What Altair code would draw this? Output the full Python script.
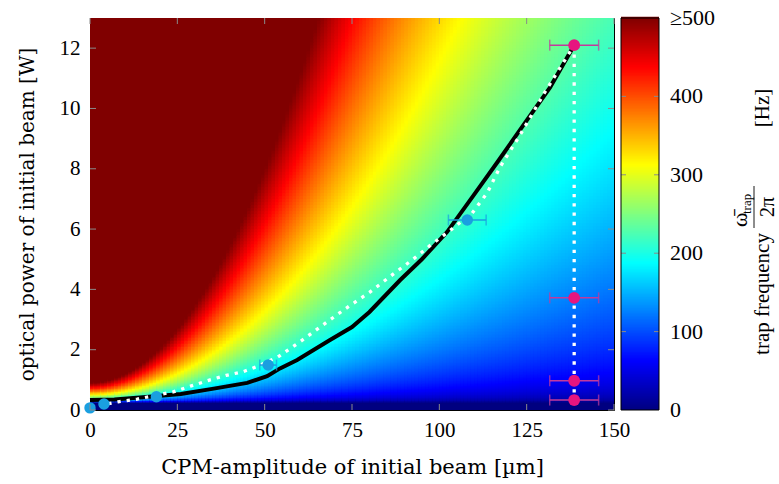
import numpy as np
import pandas as pd
import altair as alt

# ---------------- data ----------------
x_ticks = [0, 25, 50, 75, 100, 125, 150]
y_ticks = [0, 2, 4, 6, 8, 10, 12]
cbar_values = [0, 100, 200, 300, 400, 500]
cbar_inner_ticks = [100, 200, 300, 400]
jet_stops = [0, 62.5, 187.5, 312.5, 437.5, 500]
jet_colors = ["#000080", "#0000ff", "#00ffff", "#ffff00", "#ff0000", "#800000"]

# black solid curve
black_A = [0, 7, 16, 26, 35, 45, 50.7, 54.4, 59.3, 68.7, 75, 80, 88.8, 95, 102.2,
           110, 116.5, 123.1, 131.7, 138.6]
black_P = [0.33, 0.35, 0.43, 0.53, 0.7, 0.9, 1.12, 1.38, 1.66, 2.32, 2.75, 3.25, 4.31,
           5.0, 5.9, 7.15, 8.2, 9.29, 10.7, 12.1]

# white dotted curve
white_A = [0, 4, 8, 13.5, 18, 23.8, 29, 34.4, 39, 43.8, 48, 53.8, 60.1, 66.7, 73, 80,
           86.5, 92.5, 97.3, 103.6, 109.4, 113.7, 117.4, 123, 130, 138.6]
white_P = [0.1, 0.18, 0.27, 0.36, 0.47, 0.6, 0.8, 1.0, 1.15, 1.27, 1.45, 1.76, 2.26,
           2.82, 3.35, 3.9, 4.48, 5.0, 5.45, 6.0, 6.53, 7.2, 8.06, 9.1, 10.5, 12.1]

# measured points
blue_A = [0, 4, 19, 51, 108]
blue_P = [0.07, 0.2, 0.44, 1.49, 6.3]
blue_err = [0, 0, 0, 2.4, 5.4]
mag_A = [138.6, 138.6, 138.6, 138.6]
mag_P = [12.1, 3.72, 0.97, 0.33]
mag_err = [7, 7, 7, 7]

# trap-frequency field: omega = K*sqrt(P)/sqrt(A^2+a^2)*sqrt(1-Pc/P)
K_model = 9400.0
a_model = 15.0
Pc_model = 0.25

# ---------------- build tables ----------------
A_edges = np.arange(0, 150, 1.0)
P_edges = np.concatenate([np.arange(0, 2, 0.05), np.arange(2, 13, 0.1)])
P_steps = np.diff(np.append(P_edges, 13.0))
rows = []
for a0 in A_edges:
    ac = a0 + 0.5
    for p0, dp in zip(P_edges, P_steps):
        pc = p0 + dp / 2
        g = max(0.0, 1 - Pc_model / pc)
        w = K_model * np.sqrt(pc) / np.sqrt(ac ** 2 + a_model ** 2) * np.sqrt(g)
        rows.append((a0, round(a0 + 1.6, 2), round(p0, 3), round(p0 + dp + 0.07, 3),
                     round(min(w, 520.0), 1)))
heat = pd.DataFrame(rows, columns=["A", "A2", "P", "P2", "w"])

cb_v = np.arange(0, 500, 2.0)
cbar = pd.DataFrame({"P": cb_v * 13 / 500, "P2": (cb_v + 3.5) * 13 / 500,
                     "w": cb_v + 1})
cbar_lab = pd.DataFrame({"P": [v * 13 / 500 for v in cbar_values],
                         "t": [("≥" + str(v)) if v == 500 else str(v) for v in cbar_values]})
cbar_tk = pd.DataFrame({"P": [v * 13 / 500 for v in cbar_inner_ticks]})

black = pd.DataFrame({"A": black_A, "P": black_P})
white = pd.DataFrame({"A": white_A, "P": white_P})
vert = pd.DataFrame({"A": [mag_A[0], mag_A[-1]], "P": [mag_P[0], mag_P[-1]]})
blue = pd.DataFrame({"A": blue_A, "P": blue_P, "e": blue_err})
blue["lo"] = blue["A"] - blue["e"]
blue["hi"] = blue["A"] + blue["e"]
blue_eb = blue[blue["e"] > 0]
mag = pd.DataFrame({"A": mag_A, "P": mag_P, "e": mag_err})
mag["lo"] = mag["A"] - mag["e"]
mag["hi"] = mag["A"] + mag["e"]

W, H = 524, 392
SERIF_NUM = "Liberation Serif"
SERIF_TXT = "DejaVu Serif"

cscale = alt.Scale(domain=jet_stops, range=jet_colors, clamp=True, interpolate="rgb")
xs = alt.Scale(domain=[0, 150], nice=False, zero=False)
ys = alt.Scale(domain=[0, 13], nice=False, zero=False)

heat_layer = alt.Chart(heat).mark_rect(clip=True, strokeWidth=0).encode(
    x=alt.X("A:Q", scale=xs, axis=alt.Axis(
        values=x_ticks, ticks=False, domain=False, grid=False, labelPadding=9,
        labelFlush=False, labelOverlap=False,
        labelFont=SERIF_NUM, labelFontSize=21, labelColor="black",
        title="CPM-amplitude of initial beam [µm]", titleFont=SERIF_TXT,
        titleFontSize=21, titleFontWeight="normal", titleColor="black",
        titleX=262, titleY=63, titleBaseline="alphabetic", titleAlign="center")),
    x2="A2:Q",
    y=alt.Y("P:Q", scale=ys, axis=alt.Axis(
        values=y_ticks, ticks=False, domain=False, grid=False, labelPadding=10,
        labelFlush=False, labelOverlap=False,
        labelFont=SERIF_NUM, labelFontSize=21, labelColor="black",
        title="optical power of initial beam [W]", titleFont=SERIF_TXT,
        titleFontSize=20, titleFontWeight="normal", titleColor="black",
        titleX=-57, titleY=196, titleAngle=270, titleBaseline="alphabetic",
        titleAlign="center")),
    y2="P2:Q",
    color=alt.Color("w:Q", scale=cscale, legend=None),
)

tick_color = "#8a8a8a"
xt = pd.DataFrame({"A": x_ticks})
yt = pd.DataFrame({"P": y_ticks})
xtick_b = alt.Chart(xt).mark_rule(color=tick_color, strokeWidth=1).encode(
    x="A:Q", y=alt.value(H), y2=alt.value(H - 6))
xtick_t = alt.Chart(xt).mark_rule(color=tick_color, strokeWidth=1).encode(
    x="A:Q", y=alt.value(0), y2=alt.value(6))
ytick_l = alt.Chart(yt).mark_rule(color=tick_color, strokeWidth=1).encode(
    y="P:Q", x=alt.value(0), x2=alt.value(6))
ytick_r = alt.Chart(yt).mark_rule(color=tick_color, strokeWidth=1).encode(
    y="P:Q", x=alt.value(W), x2=alt.value(W - 6))

black_line = alt.Chart(black).mark_line(color="black", strokeWidth=4).encode(
    x="A:Q", y="P:Q", order=alt.Order("A:Q"))
white_line = alt.Chart(white).mark_line(
    color="white", strokeWidth=3.3, strokeDash=[3.3, 6], strokeCap="butt").encode(
    x="A:Q", y="P:Q", order=alt.Order("A:Q"))
vert_line = alt.Chart(vert).mark_line(
    color="white", strokeWidth=3.3, strokeDash=[3.3, 6], strokeCap="butt").encode(
    x="A:Q", y="P:Q")

blue_c = "#1a9fe0"
mag_c = "#e6157f"
mag_eb_c = "#c23a9c"
blue_bar = alt.Chart(blue_eb).mark_rule(color=blue_c, strokeWidth=1.5).encode(
    x="lo:Q", x2="hi:Q", y="P:Q")
blue_cap_lo = alt.Chart(blue_eb).mark_tick(orient="vertical", color=blue_c, thickness=1.5,
                                           size=11).encode(x="lo:Q", y="P:Q")
blue_cap_hi = alt.Chart(blue_eb).mark_tick(orient="vertical", color=blue_c, thickness=1.5,
                                           size=11).encode(x="hi:Q", y="P:Q")
blue_pts = alt.Chart(blue).mark_circle(color=blue_c, size=130, opacity=1).encode(
    x="A:Q", y="P:Q")

mag_bar = alt.Chart(mag).mark_rule(color=mag_eb_c, strokeWidth=1.5).encode(
    x="lo:Q", x2="hi:Q", y="P:Q")
mag_cap_lo = alt.Chart(mag).mark_tick(orient="vertical", color=mag_eb_c, thickness=1.5,
                                      size=11).encode(x="lo:Q", y="P:Q")
mag_cap_hi = alt.Chart(mag).mark_tick(orient="vertical", color=mag_eb_c, thickness=1.5,
                                      size=11).encode(x="hi:Q", y="P:Q")
mag_pts = alt.Chart(mag).mark_circle(color=mag_c, size=140, opacity=1).encode(
    x="A:Q", y="P:Q")

# colour bar (drawn with the same colour scale, placed right of the plot)
CB_X0, CB_X1 = W + 7, W + 45
cbar_rects = alt.Chart(cbar).mark_rect(strokeWidth=0).encode(
    x=alt.value(CB_X0), x2=alt.value(CB_X1), y="P:Q", y2="P2:Q",
    color=alt.Color("w:Q", scale=cscale, legend=None))
cbar_frame = alt.Chart(pd.DataFrame({"d": [0]})).mark_rect(
    fill=None, stroke="black", strokeWidth=1).encode(
    x=alt.value(CB_X0), x2=alt.value(CB_X1), y=alt.value(0), y2=alt.value(H))
cbar_tl = alt.Chart(cbar_tk).mark_rule(color=tick_color, strokeWidth=1).encode(
    y="P:Q", x=alt.value(CB_X0), x2=alt.value(CB_X0 + 5))
cbar_tr = alt.Chart(cbar_tk).mark_rule(color=tick_color, strokeWidth=1).encode(
    y="P:Q", x=alt.value(CB_X1 - 5), x2=alt.value(CB_X1))
cbar_labels = alt.Chart(cbar_lab).mark_text(
    align="left", baseline="middle", font=SERIF_NUM, fontSize=22, color="black").encode(
    x=alt.value(CB_X1 + 11), y="P:Q", text="t:N")

# colour-bar title (rotated)
def rtext(txt, x, y, size, align="center", font=SERIF_NUM):
    return alt.Chart(pd.DataFrame({"t": [txt]})).mark_text(
        angle=270, align=align, baseline="alphabetic", font=font, fontSize=size,
        color="black").encode(x=alt.value(x), y=alt.value(y), text="t:N")

t1 = rtext("trap frequency", 679, 276, 21)
t2 = rtext("ω̄", 657, 209, 22, align="left")
t3 = rtext("trap", 661, 196, 13, align="left")
t4 = rtext("2π", 684, 189, 20)
t5 = rtext("[Hz]", 679, 90, 21)
frac = alt.Chart(pd.DataFrame({"d": [0]})).mark_rule(color="black", strokeWidth=0.9).encode(
    x=alt.value(664), y=alt.value(168), y2=alt.value(210))

chart = alt.layer(
    heat_layer, black_line, white_line, vert_line,
    blue_bar, blue_cap_lo, blue_cap_hi, mag_bar, mag_cap_lo, mag_cap_hi,
    blue_pts, mag_pts,
    xtick_b, xtick_t, ytick_l, ytick_r,
    cbar_rects, cbar_tl, cbar_tr, cbar_frame, cbar_labels,
    t1, t2, t3, t4, t5, frac,
).properties(
    width=W, height=H,
    autosize=alt.AutoSizeParams(type="none"),
    padding={"left": 90, "top": 18, "right": 165, "bottom": 74},
    background="white",
).configure_view(stroke="black", strokeWidth=1)

chart.save("out.html", embed_options={"renderer": "svg", "actions": False})
